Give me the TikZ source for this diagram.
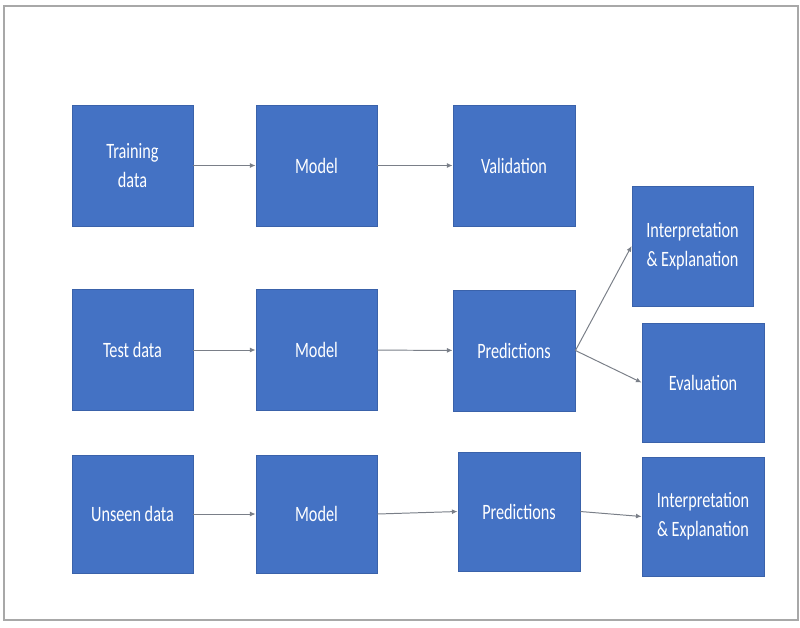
\documentclass[tikz,border=0pt]{standalone}
\usepackage{fontspec}
\setmainfont{Carlito}[FakeStretch=0.74]
\usepackage{tikz}
\usepackage{xcolor}
\usetikzlibrary{arrows.meta}

\definecolor{boxblue}{HTML}{4472C4}
\definecolor{boxedge}{HTML}{3A62AA}
\definecolor{arrowgray}{HTML}{7A7F88}
\definecolor{framegray}{HTML}{A8A8A8}

\begin{document}
\begin{tikzpicture}[x=0.025cm, y=-0.025cm,
  stage/.style={fill=boxblue, draw=boxedge, line width=0.6pt, text=white,
    minimum width=3.025cm, minimum height=3.025cm, inner sep=0pt,
    align=center, font=\fontsize{15.6}{20.6}\selectfont},
  flow/.style={draw=arrowgray, line width=0.7pt, -{Latex[length=4pt, width=3.5pt]}}]
  \useasboundingbox (0,0) rectangle (800,627);
  \draw[framegray, line width=1.4pt] (4,6) rectangle (798,620);

  % training row
  \node[stage] (train) at (132.5,165.5) {Training\\data};
  \node[stage] (model1) at (316.5,165.5) {Model};
  \node[stage, minimum width=3.05cm] (valid) at (514,165.5) {Validation};

  % test row
  \node[stage] (test) at (132.5,350) {Test data};
  \node[stage] (model2) at (316.5,350) {Model};
  \node[stage, minimum width=3.05cm] (pred1) at (514,350.5) {Predictions};
  \node[stage, minimum height=3cm] (interp1) at (692.5,246) {Interpretation\\\& Explanation};
  \node[stage, minimum width=3.05cm, minimum height=2.975cm] (eval) at (703,382.5) {Evaluation};

  % unseen row
  \node[stage, minimum height=2.95cm] (unseen) at (132.5,514) {Unseen data};
  \node[stage, minimum height=2.95cm] (model3) at (316.5,514) {Model};
  \node[stage, minimum width=3.05cm, minimum height=2.975cm] (pred2) at (519,511.5) {Predictions};
  \node[stage, minimum width=3.05cm, minimum height=2.975cm] (interp2) at (703,516.5) {Interpretation\\\& Explanation};

  \draw[flow] (train) -- (model1);
  \draw[flow] (model1) -- (valid);
  \draw[flow] (test) -- (model2);
  \draw[flow] (model2) -- (pred1);
  \draw[flow] (pred1.east) -- (interp1.west);
  \draw[flow] (pred1.east) -- (eval.west);
  \draw[flow] (unseen) -- (model3);
  \draw[flow] (model3.east) -- (pred2.west);
  \draw[flow] (pred2.east) -- (interp2.west);
\end{tikzpicture}
\end{document}
